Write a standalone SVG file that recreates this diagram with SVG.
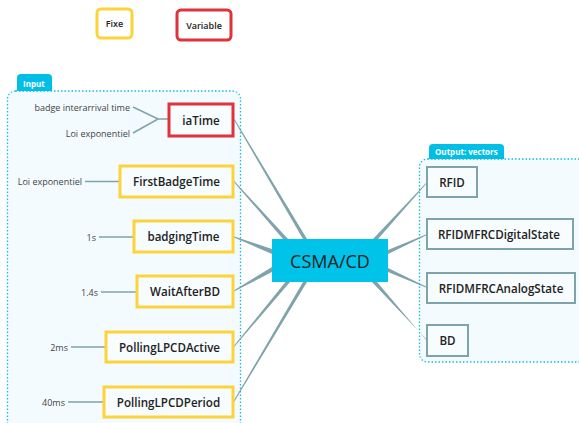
<svg xmlns="http://www.w3.org/2000/svg" width="579" height="423" viewBox="0 0 579 423">
<style>
.t{font-family:"Open Sans","Noto Sans",sans-serif;fill:#222;}
.n{font-size:11.6px;text-anchor:middle;dominant-baseline:central;font-weight:600;}
.lbl{font-family:"Open Sans","Noto Sans",sans-serif;font-size:9px;fill:#444;text-anchor:end;dominant-baseline:central;}
.fixe{fill:#f7fcfe;stroke:#fcd43a;stroke-width:3;}
.var{fill:#f7fcfe;stroke:#e0323a;stroke-width:3;}
.out{fill:#f7fcfe;stroke:#7fa3ab;stroke-width:2;}
.c{fill:none;stroke:#7fa3ab;stroke-width:1.5;}
.tp{fill:#7fa3ab;}
.cont{fill:#f3fbfe;stroke:#13bde6;stroke-width:1.3;stroke-dasharray:1.5 2;}
.tab{fill:#00bfe6;}
.tabt{font-family:"Open Sans","Noto Sans",sans-serif;font-size:8px;font-weight:700;fill:#fff;dominant-baseline:central;}
</style>
<rect width="579" height="423" fill="#fff"/>
<g id="legend-fixe"><rect class="fixe" x="97" y="9" width="35" height="29" rx="4" style="fill:#fff"/><text class="t" x="114.5" y="23.5" font-size="9" font-weight="600" text-anchor="middle" dominant-baseline="central">Fixe</text></g>
<g id="legend-variable"><rect class="var" x="177" y="10" width="54" height="30" rx="4" style="fill:#fff"/><text class="t" x="204" y="25" font-size="9" font-weight="600" text-anchor="middle" dominant-baseline="central">Variable</text></g>
<g id="input-group">
<rect class="cont" x="7.5" y="91" width="233" height="340" rx="8"/>
<path class="tab" d="M17 91 V78 Q17 74 21 74 H48 Q52 74 52 78 V91 Z"/>
<text class="tabt" x="23" y="83">Input</text>
</g>
<g id="output-group">
<rect class="cont" x="419.5" y="159" width="170" height="203" rx="8"/>
<path class="tab" d="M429 159 V148 Q429 144 433 144 H500 Q504 144 504 148 V159 Z"/>
<text class="tabt" x="435" y="151.5">Output: vectors</text>
</g>
<g id="connectors">
<polyline class="c" points="133,107 158,119 168,119"/>
<polyline class="c" points="133,133 158,119"/>
<line class="c" x1="85" y1="181.5" x2="119" y2="181.5"/>
<line class="c" x1="99" y1="237" x2="133" y2="237"/>
<line class="c" x1="101" y1="292" x2="136" y2="292"/>
<line class="c" x1="71" y1="347" x2="105" y2="347"/>
<line class="c" x1="68" y1="402" x2="103" y2="402"/>
<polygon class="tp" points="234,120 234.8,119.5 307,239 303,239"/>
<polygon class="tp" points="233,181 233.8,180.5 288,239 283,239"/>
<polygon class="tp" points="233,237 233,236 272,249 272,254"/>
<polygon class="tp" points="233,292 233,291 272,267 272,272"/>
<polygon class="tp" points="233,347 233.7,347.6 290,282 285.5,282"/>
<polygon class="tp" points="233,402 233.8,402.4 307,282 303,282"/>
<polygon class="tp" points="427,182 427,183 378,239 373,239"/>
<polygon class="tp" points="427,234 427,235 388,254 388,250"/>
<polygon class="tp" points="427,287 427,288 388,272 388,268"/>
<polygon class="tp" points="427,340 427,341 377,282 372,282"/>
</g>
<g id="input-labels">
<text class="lbl" x="130" y="107">badge interarrival time</text>
<text class="lbl" x="130" y="133">Loi exponentiel</text>
<text class="lbl" x="82" y="181.5">Loi exponentiel</text>
<text class="lbl" x="96" y="237">1s</text>
<text class="lbl" x="98" y="292">1.4s</text>
<text class="lbl" x="68" y="347">2ms</text>
<text class="lbl" x="65" y="402">40ms</text>
</g>
<g id="iaTime"><rect class="var" x="169" y="104" width="64" height="32"/><text class="t n" x="201" y="120">iaTime</text></g>
<g id="FirstBadgeTime"><rect class="fixe" x="120" y="166" width="113" height="31"/><text class="t n" x="176.5" y="181.5">FirstBadgeTime</text></g>
<g id="badgingTime"><rect class="fixe" x="134" y="221" width="99" height="31"/><text class="t n" x="183.5" y="236.5">badgingTime</text></g>
<g id="WaitAfterBD"><rect class="fixe" x="137" y="276" width="96" height="31"/><text class="t n" x="185" y="291.5">WaitAfterBD</text></g>
<g id="PollingLPCDActive"><rect class="fixe" x="106" y="332" width="127" height="30"/><text class="t n" x="169.5" y="347">PollingLPCDActive</text></g>
<g id="PollingLPCDPeriod"><rect class="fixe" x="104" y="387" width="129" height="30"/><text class="t n" x="168.5" y="402">PollingLPCDPeriod</text></g>
<g id="CSMA-CD"><rect x="272" y="239" width="116" height="43" fill="#00c3e9"/><text class="t" x="330" y="261" font-size="18" text-anchor="middle" dominant-baseline="central" fill="#111">CSMA/CD</text></g>
<g id="RFID"><rect class="out" x="427" y="167" width="50" height="30"/><text class="t n" x="452" y="182">RFID</text></g>
<g id="RFIDMFRCDigitalState"><rect class="out" x="427" y="219" width="146" height="30"/><text class="t n" x="499" y="234">RFIDMFRCDigitalState</text></g>
<g id="RFIDMFRCAnalogState"><rect class="out" x="427" y="273" width="148" height="30"/><text class="t n" x="501" y="288">RFIDMFRCAnalogState</text></g>
<g id="BD"><rect class="out" x="427" y="325" width="41" height="31"/><text class="t n" x="447.5" y="340.5">BD</text></g>
</svg>
